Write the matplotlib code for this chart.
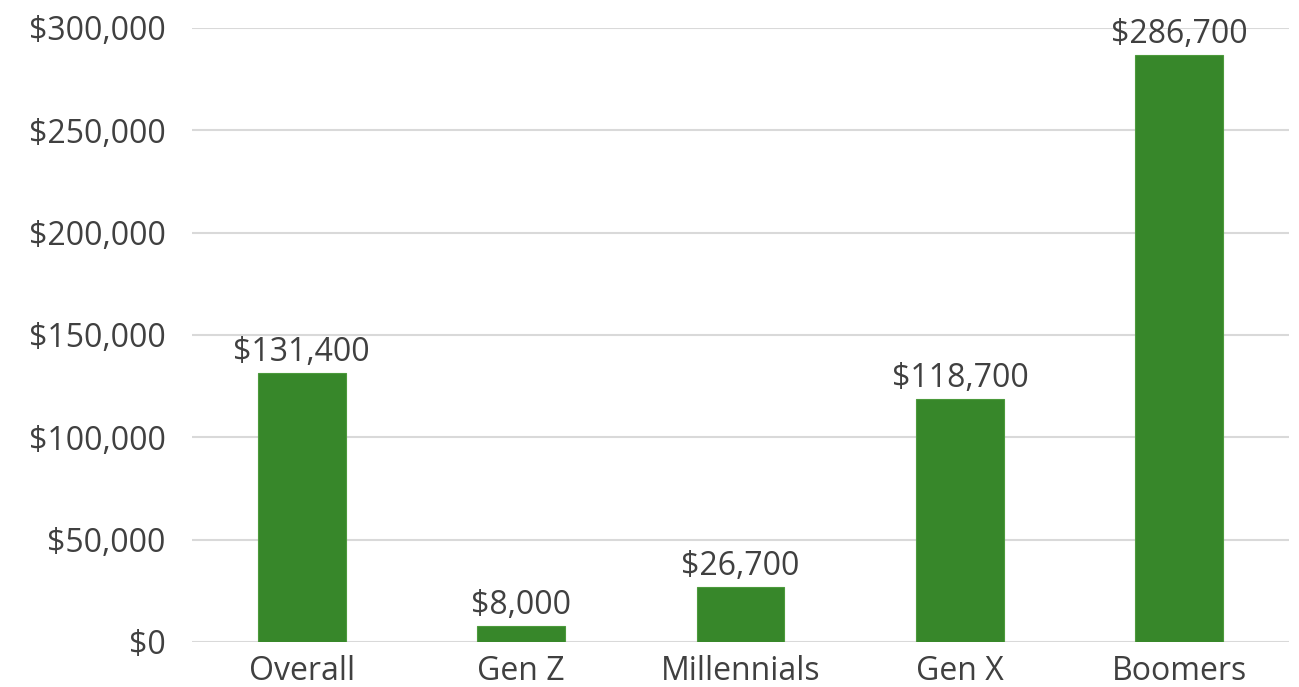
import matplotlib.pyplot as plt
from matplotlib.ticker import FuncFormatter

categories = ['Overall', 'Gen Z', 'Millennials', 'Gen X', 'Boomers']
values = [131400, 8000, 26700, 118700, 286700]
yticks = [0, 50000, 100000, 150000, 200000, 250000, 300000]

plt.rcParams['font.family'] = ['Open Sans', 'DejaVu Sans']
text_color = '#404040'

fig = plt.figure(figsize=(12.99, 6.87), dpi=100)
ax = fig.add_axes([192 / 1299, 45 / 687, 1097 / 1299, 614 / 687])

x = range(len(categories))
bars = ax.bar(x, values, width=0.4, color='#37872A', edgecolor='#4C9A3C', linewidth=0.8, zorder=3)

for b, v in zip(bars, values):
    ax.text(b.get_x() + b.get_width() / 2, v + 2000, f'${v:,}', ha='center', va='bottom',
            fontsize=23, color=text_color)

ax.set_xlim(-0.5, len(categories) - 0.5)
ax.set_ylim(0, 300000)
ax.set_yticks(yticks)
ax.yaxis.set_major_formatter(FuncFormatter(lambda v, p: f'${v:,.0f}'))
ax.set_xticks(list(x))
ax.set_xticklabels(categories)
ax.tick_params(axis='both', length=0, labelsize=23, labelcolor=text_color)
ax.tick_params(axis='y', pad=19)
ax.tick_params(axis='x', pad=9)
ax.grid(axis='y', color='#D9D9D9', linewidth=1.5, zorder=0)
for s in ax.spines.values():
    s.set_visible(False)

fig.savefig('out.png', dpi=100)
